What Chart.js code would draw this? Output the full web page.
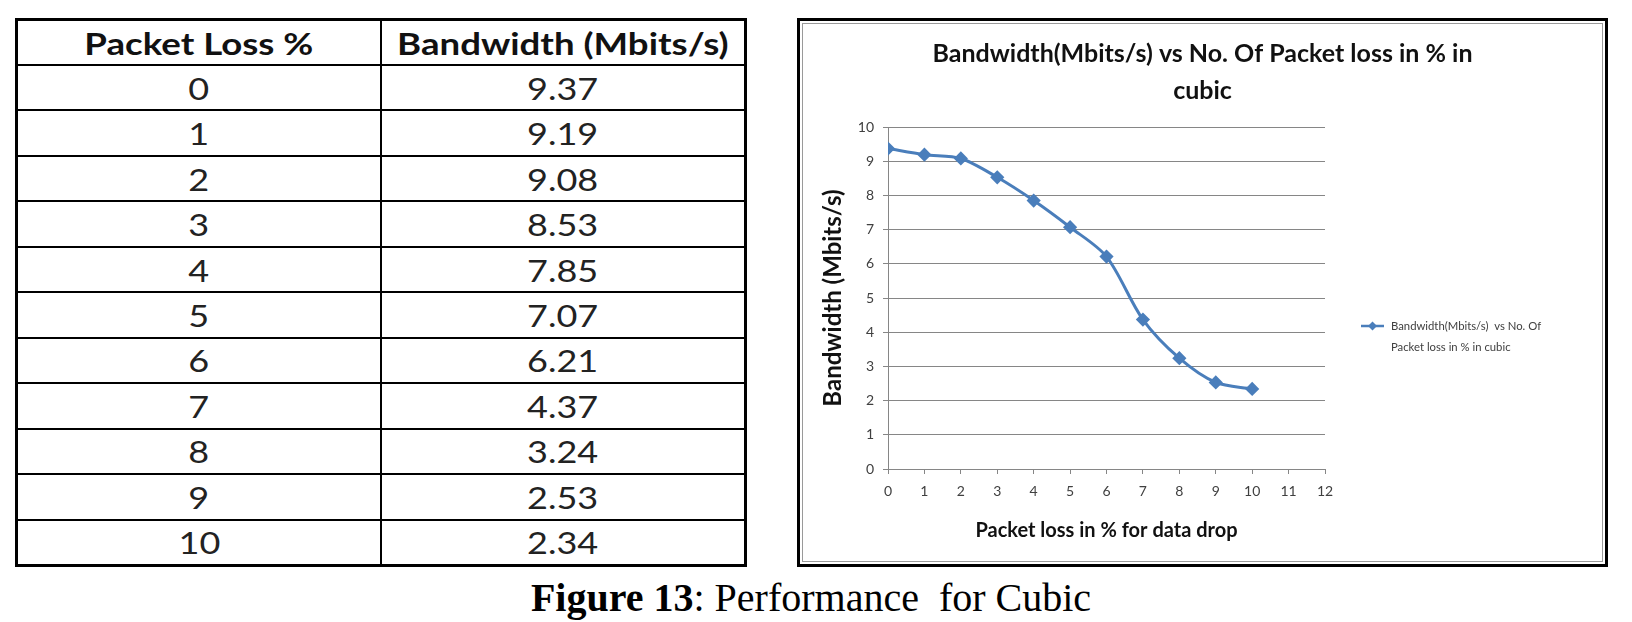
<!DOCTYPE html>
<html>
<head>
<meta charset="utf-8">
<script src="https://cdn.jsdelivr.net/npm/chart.js@4.4.1/dist/chart.umd.min.js"></script>
<style>
  html, body { margin: 0; padding: 0; background: #fff; }
  body { width: 1632px; height: 622px; position: relative; overflow: hidden; }
  #tbl {
    position: absolute; left: 15px; top: 18px; width: 732px; height: 549px;
    border-collapse: collapse; border: 3px solid #000;
    font-family: Lato, "Open Sans", sans-serif; font-size: 30px; color: #222;
  }
  #tbl td, #tbl th {
    border: 2.5px solid #000; text-align: center; padding: 0; height: 43px; width: 50%;
    line-height: 30px;
  }
  #tbl th { font-weight: bold; color: #111; }
  #tbl span { display: inline-block; transform: scaleX(1.2); }
  #tbl th span { transform: scaleX(1.22); }
  #box {
    position: absolute; left: 797px; top: 18px; width: 805px; height: 543px;
    border: 3px solid #000; box-shadow: inset 0 0 0 2px #fff, inset 0 0 0 3px #9a9a9a;
  }
  #wrap { position: absolute; left: 801px; top: 22px; width: 803px; height: 541px; }
  #caption {
    position: absolute; left: 0; width: 1622px; top: 575px; text-align: center;
    font-family: "Liberation Serif", "Times New Roman", serif; font-size: 40px;
    line-height: 46px; color: #000;
  }
</style>
</head>
<body>
<table id="tbl"><thead><tr><th><span>Packet Loss %</span></th><th><span>Bandwidth (Mbits/s)</span></th></tr></thead><tbody id="rows"></tbody></table>
<div id="box"></div>
<div id="wrap"><canvas id="chart"></canvas></div>
<div id="caption"><b>Figure 13</b>: Performance&nbsp; for Cubic</div>
<script>
var packetLoss = [0, 1, 2, 3, 4, 5, 6, 7, 8, 9, 10];
var bandwidth = [9.37, 9.19, 9.08, 8.53, 7.85, 7.07, 6.21, 4.37, 3.24, 2.53, 2.34];
var seriesName = ['Bandwidth(Mbits/s)  vs No. Of', 'Packet loss in % in cubic'];
var chartTitle = ['Bandwidth(Mbits/s) vs No. Of Packet loss in % in', 'cubic'];

// table
var tbody = document.getElementById('rows');
packetLoss.forEach(function (p, i) {
    var tr = document.createElement('tr');
    tr.innerHTML = '<td><span>' + p + '</span></td><td><span>' + bandwidth[i].toFixed(2) + '</span></td>';
    tbody.appendChild(tr);
});

var blue = '#4a7ebb';

// legend drawn at the right of the plot (two lines of text)
var sideLegend = {
    id: 'sideLegend',
    afterDraw: function (chart) {
        var ctx = chart.ctx, a = chart.chartArea;
        var x = a.right + 36, y = a.top + 199;
        ctx.save();
        ctx.strokeStyle = blue;
        ctx.lineWidth = 2.5;
        ctx.beginPath();
        ctx.moveTo(x, y);
        ctx.lineTo(x + 23, y);
        ctx.stroke();
        ctx.fillStyle = blue;
        ctx.beginPath();
        ctx.moveTo(x + 11.5, y - 4.5);
        ctx.lineTo(x + 16, y);
        ctx.lineTo(x + 11.5, y + 4.5);
        ctx.lineTo(x + 7, y);
        ctx.closePath();
        ctx.fill();
        ctx.fillStyle = '#404040';
        ctx.font = '11.3px Lato, "Open Sans", sans-serif';
        ctx.textBaseline = 'middle';
        ctx.fillText(seriesName[0], x + 30, y);
        ctx.fillText(seriesName[1], x + 30, y + 21);
        ctx.restore();
    }
};

var ctx = document.getElementById('chart').getContext('2d');
var chart = new Chart(ctx, {
    type: 'line',
    data: {
        datasets: [{
            label: seriesName.join(' '),
            data: packetLoss.map(function (p, i) { return { x: p, y: bandwidth[i] }; }),
            borderColor: blue,
            backgroundColor: blue,
            borderWidth: 3,
            tension: 0.3,
            pointStyle: 'rectRot',
            pointRadius: 5,
            pointBackgroundColor: blue,
            pointBorderColor: blue,
            fill: false
        }]
    },
    options: {
        responsive: true,
        maintainAspectRatio: false,
        animation: false,
        layout: { padding: 0 },
        scales: {
            x: {
                type: 'linear',
                min: 0,
                max: 12,
                afterFit: function (s) { s.height = 94; },
                ticks: { stepSize: 1, padding: 9, color: '#404040', font: { family: 'Lato', size: 14 } },
                grid: { drawOnChartArea: false, drawTicks: true, tickLength: 5, color: '#868686' },
                border: { color: '#868686' },
                title: {
                    display: true,
                    text: 'Packet loss in % for data drop',
                    color: '#111',
                    font: { family: 'Lato', size: 20, weight: 'bold' },
                    padding: { top: 0, bottom: 20 }
                }
            },
            y: {
                min: 0,
                max: 10,
                afterFit: function (s) { s.width = 87; },
                ticks: { stepSize: 1, padding: 9, color: '#404040', font: { family: 'Lato', size: 14 } },
                grid: { color: '#868686', tickLength: 5 },
                border: { color: '#868686' },
                title: {
                    display: true,
                    text: 'Bandwidth (Mbits/s)',
                    color: '#111',
                    font: { family: 'Lato', size: 24, weight: 'bold' },
                    padding: { top: 18, bottom: 0 }
                }
            },
            y2: {
                type: 'linear',
                position: 'right',
                afterFit: function (s) { s.width = 279; },
                ticks: { display: false },
                grid: { display: false },
                border: { display: false }
            }
        },
        plugins: {
            legend: { display: false },
            tooltip: { enabled: false },
            title: {
                display: true,
                text: chartTitle,
                color: '#111',
                font: { family: 'Lato', size: 25, weight: 'bold', lineHeight: 1.46 },
                padding: { top: 14, bottom: 18 }
            }
        }
    },
    plugins: [sideLegend]
});
</script>
</body>
</html>
